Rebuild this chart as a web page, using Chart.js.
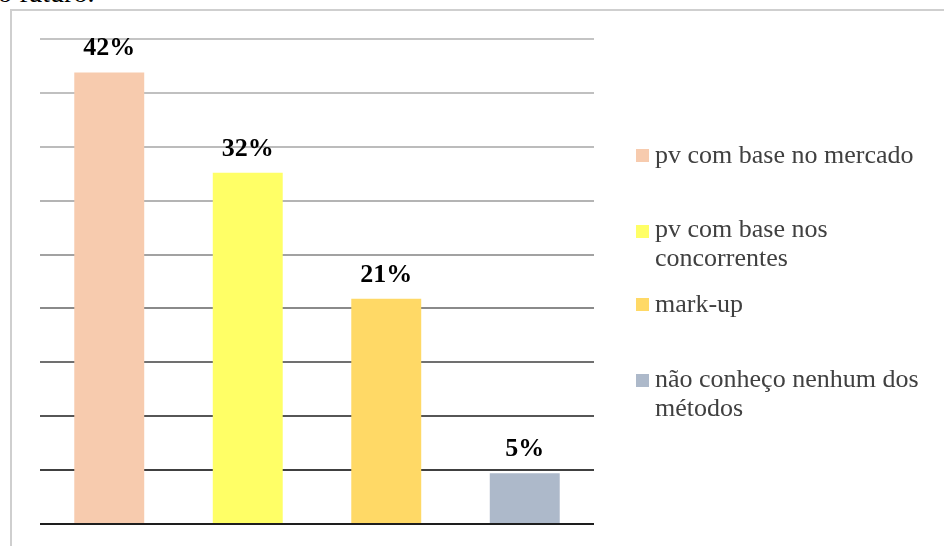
<!DOCTYPE html>
<html>
<head>
<meta charset="utf-8">
<script src="https://cdn.jsdelivr.net/npm/chart.js@4"></script>
<style>
  body { margin: 0; background: #fff; width: 944px; height: 546px; overflow: hidden; position: relative; }
  #topText { position: absolute; left: -2px; top: -21px; font: 28px "Liberation Serif", "Times New Roman", serif; color: #000; line-height: 28px; }
  #frame { position: absolute; left: 10px; top: 9px; width: 960px; height: 560px; border-left: 2px solid #cfcfcf; border-top: 2px solid #cfcfcf; }
  #wrap { position: absolute; left: 0; top: 0; width: 944px; height: 546px; }
  #legend { position: absolute; left: 636px; top: 0; font: 26px "Liberation Serif", "Times New Roman", serif; color: #404040; }
  .sw { position: absolute; left: 0; width: 13px; height: 13px; }
  .txt { position: absolute; left: 19px; white-space: nowrap; line-height: 29px; }
</style>
</head>
<body>
<div id="topText">o futuro.</div>
<div id="frame"></div>
<div id="wrap"><canvas id="chart" width="944" height="546"></canvas></div>
<div id="legend"></div>
<script>
// data
const categories = ['pv com base no mercado', 'pv com base nos concorrentes', 'mark-up', 'não conheço nenhum dos métodos'];
const legendLines = [['pv com base no mercado'], ['pv com base nos', 'concorrentes'], ['mark-up'], ['não conheço nenhum dos', 'métodos']];
const values = [41.9, 32.6, 20.9, 4.7];
const valueLabels = ['42%', '32%', '21%', '5%'];
const colors = ['#f7cbae', '#ffff66', '#ffd966', '#adb9ca'];
const gridColors = ['#1e1e1e', '#404040', '#565656', '#707070', '#8a8a8a', '#a2a2a2', '#b4b4b4', '#bcbcbc', '#c0c0c0', '#c4c4c4'];

// legend (html)
const legendTextTops = [140, 214, 289, 364];
const legendBoxTops = [149, 225, 298, 374];
const legendEl = document.getElementById('legend');
legendLines.forEach((lines, i) => {
    const sw = document.createElement('div');
    sw.className = 'sw';
    sw.style.background = colors[i];
    sw.style.top = legendBoxTops[i] + 'px';
    legendEl.appendChild(sw);
    const t = document.createElement('div');
    t.className = 'txt';
    t.style.top = legendTextTops[i] + 'px';
    t.innerHTML = lines.join('<br>');
    legendEl.appendChild(t);
});

// value labels above bars
const barLabels = {
    id: 'barLabels',
    afterDatasetsDraw(chart) {
        const c = chart.ctx;
        const meta = chart.getDatasetMeta(0);
        c.save();
        c.font = 'bold 26px "Liberation Serif", "Times New Roman", serif';
        c.fillStyle = '#000';
        c.textAlign = 'center';
        c.textBaseline = 'alphabetic';
        meta.data.forEach((bar, i) => {
            c.fillText(valueLabels[i], bar.x, bar.y - 17);
        });
        c.restore();
    }
};

const ctx = document.getElementById('chart').getContext('2d');
new Chart(ctx, {
    type: 'bar',
    data: {
        labels: categories,
        datasets: [{
            data: values,
            backgroundColor: colors,
            barPercentage: 0.505,
            categoryPercentage: 1.0
        }]
    },
    options: {
        responsive: false,
        animation: false,
        layout: { padding: { left: 40, top: 39, right: 350, bottom: 22 } },
        plugins: {
            legend: { display: false },
            tooltip: { enabled: false }
        },
        scales: {
            x: { display: false },
            y: {
                min: 0,
                max: 45,
                ticks: { display: false, stepSize: 5 },
                border: { display: false },
                grid: {
                    drawTicks: false,
                    lineWidth: 2,
                    color: (c) => gridColors[c.index] || '#c0c0c0'
                }
            }
        }
    },
    plugins: [barLabels]
});
</script>
</body>
</html>
